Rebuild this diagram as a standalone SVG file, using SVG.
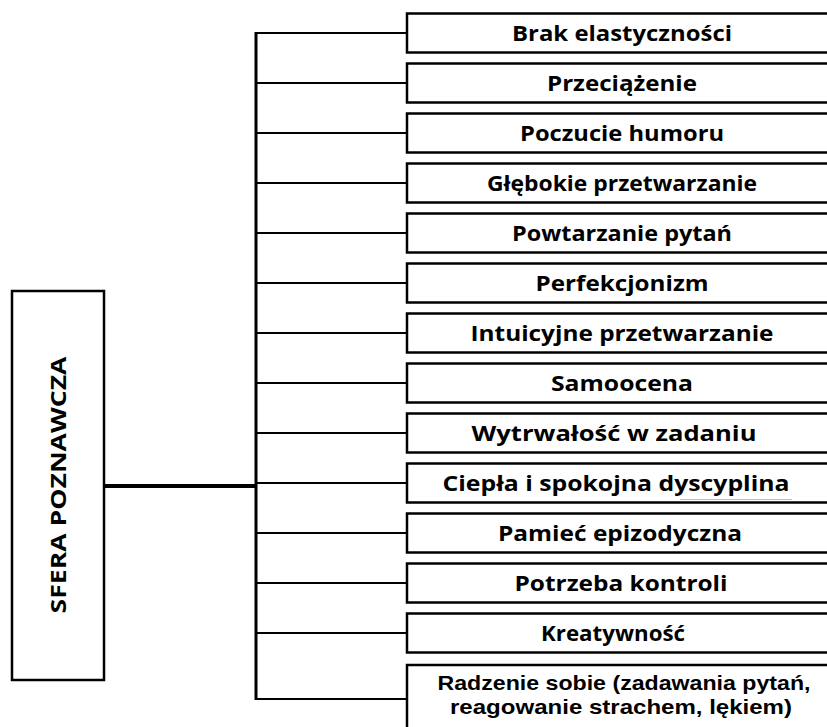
<svg xmlns="http://www.w3.org/2000/svg" width="827" height="727" viewBox="0 0 827 727">
<style>
.box{fill:#fff;stroke:#000;stroke-width:2.5}
.t{font-family:"Open Sans","Liberation Sans",Arial,sans-serif;font-weight:bold;font-size:21px;text-anchor:middle;fill:#000}
.t2{font-family:"Liberation Sans",Arial,sans-serif;font-size:20.5px}
.br{stroke:#000;stroke-width:2.2;fill:none}
</style>
<rect width="827" height="727" fill="#fff"/>
<g id="connectors">
<line x1="104" y1="486" x2="256" y2="486" stroke="#000" stroke-width="4"/>
<line x1="256" y1="32" x2="256" y2="700" stroke="#000" stroke-width="3"/>
<path class="br" d="M256 33H407M256 83H407M256 133H407M256 183H407M256 233H407M256 283H407M256 333H407M256 383H407M256 433H407M256 483H407M256 533H407M256 583H407M256 633H407M256 699H407"/>
</g>
<g id="root">
<rect x="12" y="291" width="92" height="389" class="box"/>
<text class="t" transform="translate(66,485) rotate(-90)" font-size="26" textLength="257" lengthAdjust="spacingAndGlyphs">SFERA POZNAWCZA</text>
</g>
<g id="n1"><rect x="407" y="13.5" width="440" height="39" class="box"/><text class="t" x="622" y="41" textLength="220" lengthAdjust="spacingAndGlyphs">Brak elastyczności</text></g>
<g id="n2"><rect x="407" y="63.5" width="440" height="39" class="box"/><text class="t" x="622" y="91" textLength="150" lengthAdjust="spacingAndGlyphs">Przeciążenie</text></g>
<g id="n3"><rect x="407" y="113.5" width="440" height="39" class="box"/><text class="t" x="622" y="141" textLength="204" lengthAdjust="spacingAndGlyphs">Poczucie humoru</text></g>
<g id="n4"><rect x="407" y="163.5" width="440" height="39" class="box"/><text class="t" x="622" y="191" textLength="270" lengthAdjust="spacingAndGlyphs">Głębokie przetwarzanie</text></g>
<g id="n5"><rect x="407" y="213.5" width="440" height="39" class="box"/><text class="t" x="622" y="241" textLength="220" lengthAdjust="spacingAndGlyphs">Powtarzanie pytań</text></g>
<g id="n6"><rect x="407" y="263.5" width="440" height="39" class="box"/><text class="t" x="622" y="291" textLength="173" lengthAdjust="spacingAndGlyphs">Perfekcjonizm</text></g>
<g id="n7"><rect x="407" y="313.5" width="440" height="39" class="box"/><text class="t" x="622" y="341" textLength="303" lengthAdjust="spacingAndGlyphs">Intuicyjne przetwarzanie</text></g>
<g id="n8"><rect x="407" y="363.5" width="440" height="39" class="box"/><text class="t" x="622" y="391" textLength="142" lengthAdjust="spacingAndGlyphs">Samoocena</text></g>
<g id="n9"><rect x="407" y="413.5" width="440" height="39" class="box"/><text class="t" x="614" y="441" textLength="285" lengthAdjust="spacingAndGlyphs">Wytrwałość w zadaniu</text></g>
<g id="n10"><rect x="407" y="463.5" width="440" height="39" class="box"/><text class="t" x="616" y="491" textLength="347" lengthAdjust="spacingAndGlyphs">Ciepła i spokojna dyscyplina</text><path d="M680 499.5h112" stroke="#f2a6a6" stroke-width="1"/></g>
<g id="n11"><rect x="407" y="513.5" width="440" height="39" class="box"/><text class="t" x="620" y="541" textLength="244" lengthAdjust="spacingAndGlyphs">Pamieć epizodyczna</text></g>
<g id="n12"><rect x="407" y="563.5" width="440" height="39" class="box"/><text class="t" x="621" y="591" textLength="213" lengthAdjust="spacingAndGlyphs">Potrzeba kontroli</text></g>
<g id="n13"><rect x="407" y="613.5" width="440" height="39" class="box"/><text class="t" x="613" y="641" textLength="144" lengthAdjust="spacingAndGlyphs">Kreatywność</text></g>
<g id="n14"><rect x="407" y="665" width="440" height="80" class="box"/><text class="t t2" x="624" y="690" textLength="373" lengthAdjust="spacingAndGlyphs">Radzenie sobie (zadawania pytań,</text><text class="t t2" x="621" y="714" textLength="342" lengthAdjust="spacingAndGlyphs">reagowanie strachem, lękiem)</text></g>
</svg>
